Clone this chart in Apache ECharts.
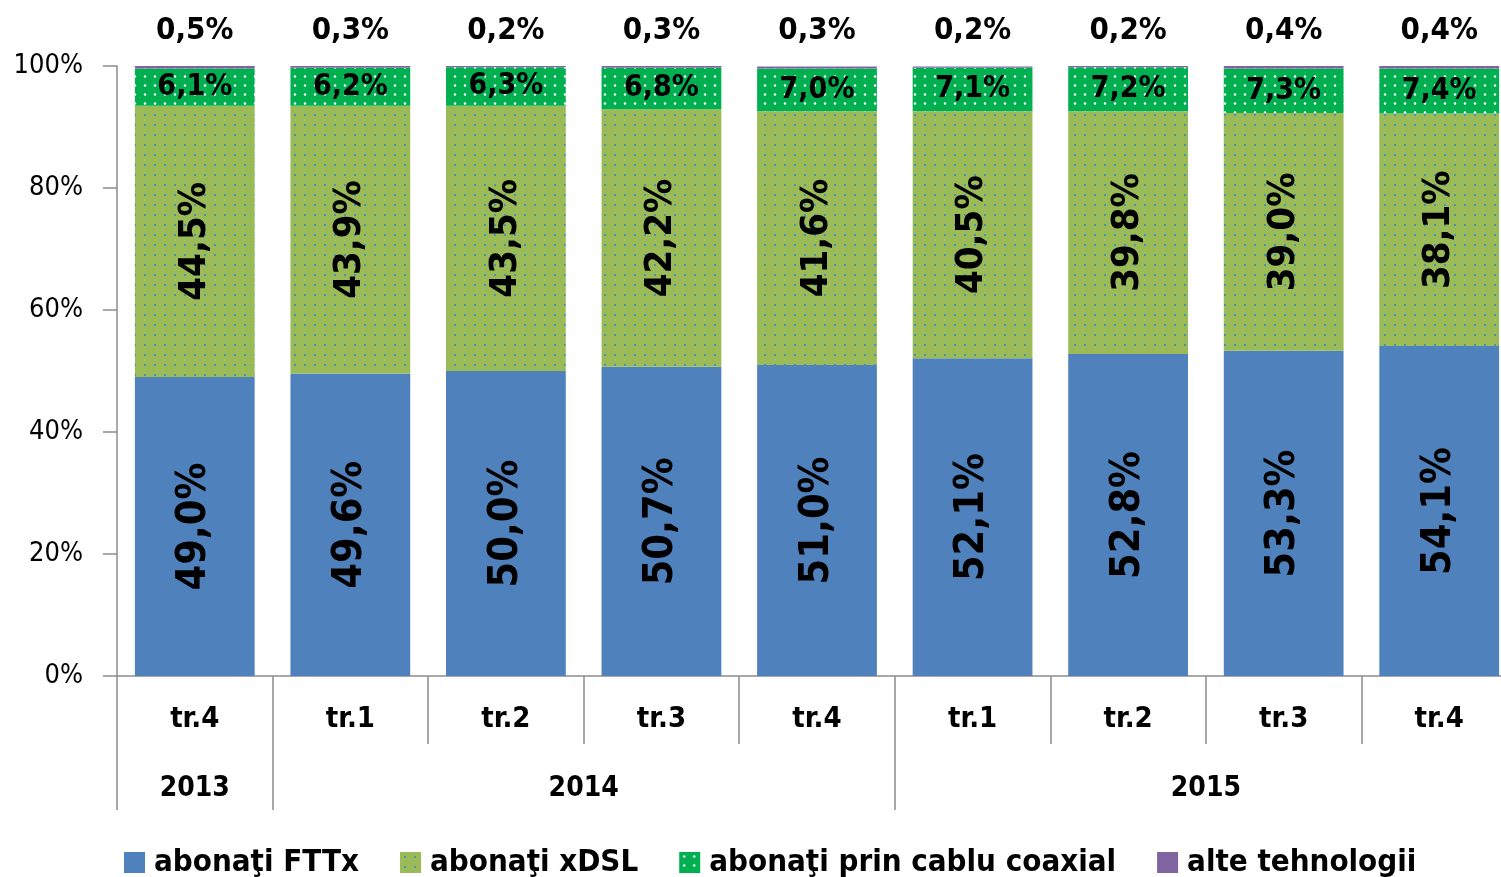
<!DOCTYPE html>
<html>
<head>
<meta charset="utf-8">
<script src="https://cdn.jsdelivr.net/npm/echarts@6/dist/echarts.min.js"></script>
<style>
  html, body { margin: 0; padding: 0; background: #fff; overflow: hidden; }
  /*graficul original e taiat in dreapta*/
  #chart { width: 1518px; height: 877px; }
</style>
</head>
<body>
<div id="chart"></div>
<script>
  // date
  const quarters = ['tr.4', 'tr.1', 'tr.2', 'tr.3', 'tr.4', 'tr.1', 'tr.2', 'tr.3', 'tr.4'];
  const years = ['2013', '2014', '2015'];
  const yearStart = [0, 1, 5];
  const yearMid = [0.5, 3, 7];
  const fttx = [49.0, 49.6, 50.0, 50.7, 51.0, 52.1, 52.8, 53.3, 54.1];
  const xdsl = [44.5, 43.9, 43.5, 42.2, 41.6, 40.5, 39.8, 39.0, 38.1];
  const coax = [6.1, 6.2, 6.3, 6.8, 7.0, 7.1, 7.2, 7.3, 7.4];
  const other = [0.5, 0.3, 0.2, 0.3, 0.3, 0.2, 0.2, 0.4, 0.4];

  const font = '"DejaVu Sans Condensed", "DejaVu Sans", sans-serif';

  /*textura cu puncte*/
  function dots(bg, dot, w, h, r) {
    const c = document.createElement('canvas');
    c.width = w; c.height = h;
    const ctx = c.getContext('2d');
    ctx.fillStyle = bg;
    ctx.fillRect(0, 0, w, h);
    ctx.fillStyle = dot;
    ctx.beginPath();
    ctx.arc(w / 2, h / 2, r, 0, Math.PI * 2);
    ctx.fill();
    return { image: c, repeat: 'repeat' };
  }

  const pct = (p) => p.value.toFixed(1).replace('.', ',') + '%';

  const label = (size, extra) => Object.assign({
    show: true,
    color: '#000',
    fontFamily: font,
    fontWeight: 'bold',
    fontSize: size,
    formatter: pct
  }, extra);

  const chart = echarts.init(document.getElementById('chart'));
  chart.setOption({
    animation: false,
    textStyle: { fontFamily: font },
    grid: { left: 117, top: 66, width: 1400, bottom: 201 },
    legend: {
      left: 119,
      top: 842,
      itemWidth: 21,
      itemHeight: 21,
      itemGap: 41,
      icon: 'rect',
      textStyle: { fontFamily: font, fontWeight: 'bold', fontSize: 31, color: '#000', padding: [0, 0, 0, 4] },
      data: ['abonaţi FTTx', 'abonaţi xDSL', 'abonaţi prin cablu coaxial', 'alte tehnologii']
    },
    xAxis: [{
      type: 'category',
      data: quarters,
      axisLine: { lineStyle: { color: '#8c8c8c', width: 1.5 } },
      axisTick: { show: true, interval: 0, length: 68, lineStyle: { color: '#8c8c8c', width: 1.5 } },
      axisLabel: { interval: 0, margin: 29, color: '#000', fontFamily: font, fontWeight: 'bold', fontSize: 29 }
    }, {
      type: 'value',
      position: 'bottom',
      min: 0,
      max: 9,
      axisLine: { show: false },
      splitLine: { show: false },
      axisTick: { show: true, length: 134, customValues: yearStart, lineStyle: { color: '#8c8c8c', width: 1.5 } },
      axisLabel: {
        margin: 99,
        customValues: yearMid,
        formatter: (v) => years[yearMid.indexOf(v)],
        color: '#000', fontFamily: font, fontWeight: 'bold', fontSize: 28
      }
    }],
    yAxis: {
      type: 'value',
      min: 0,
      max: 100,
      interval: 20,
      axisLine: { show: true, lineStyle: { color: '#8c8c8c', width: 1.5 } },
      axisTick: { show: true, length: 14, lineStyle: { color: '#8c8c8c', width: 1.5 } },
      splitLine: { show: false },
      axisLabel: { formatter: '{value}%', margin: 34, color: '#000', fontFamily: font, fontSize: 27 }
    },
    series: [{
      name: 'abonaţi FTTx',
      type: 'bar',
      stack: 'total',
      barCategoryGap: '23%',
      data: fttx,
      itemStyle: { color: '#4F81BD' },
      label: label(41, { position: 'inside', rotate: 90 }),
      emphasis: { disabled: true }
    }, {
      name: 'abonaţi xDSL',
      type: 'bar',
      stack: 'total',
      data: xdsl,
      itemStyle: { color: dots('#9BBB59', '#2E86C8', 10, 10, 1) },
      label: label(38, { position: 'inside', rotate: 90 }),
      emphasis: { disabled: true }
    }, {
      name: 'abonaţi prin cablu coaxial',
      type: 'bar',
      stack: 'total',
      data: coax,
      itemStyle: { color: dots('#00B050', '#ffffff', 10, 9, 1.2) },
      label: label(30, { position: 'inside' }),
      emphasis: { disabled: true }
    }, {
      name: 'alte tehnologii',
      type: 'bar',
      stack: 'total',
      data: other,
      itemStyle: { color: '#8064A2' },
      label: label(31, { position: 'top', distance: 20 }),
      emphasis: { disabled: true }
    }]
  });
</script>
</body>
</html>
